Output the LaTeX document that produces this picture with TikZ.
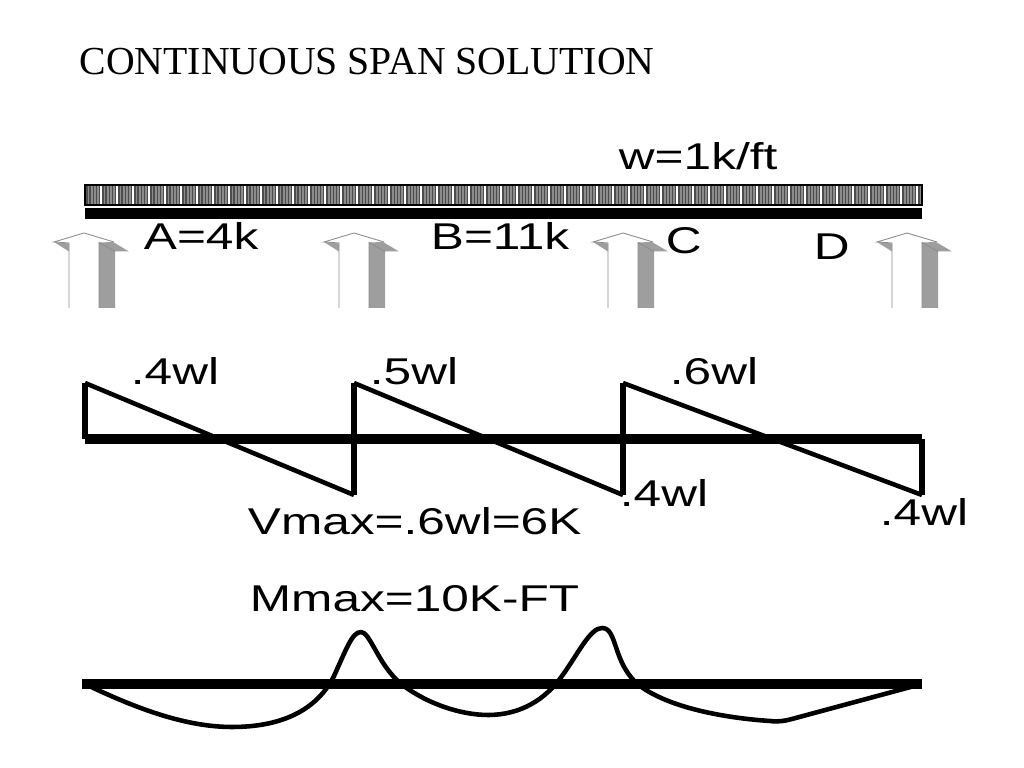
\documentclass[tikz,border=0pt]{standalone}
\usepackage{fontspec}
\setmainfont{Liberation Serif}
\newfontfamily\arialfont{Liberation Sans}
\usetikzlibrary{positioning}
\definecolor{shadegray}{gray}{0.62}
\tikzset{
  lbl/.style={font=\arialfont\fontsize{10.6}{12}\selectfont,inner sep=0pt,anchor=base west,xscale=1.33},
  axisline/.style={line width=2.7pt},
  diagline/.style={line width=1.3pt,line join=round},
  postline/.style={line width=1.6pt},
  outline/.style={line width=0.25pt,draw=black!45}
}
\begin{document}
\begin{tikzpicture}[x=0.01cm,y=-0.01cm]
    \useasboundingbox[fill=white](0,0)rectangle(1024,768);
    \node[font=\fontsize{11.3}{13}\selectfont,inner sep=0pt,anchor=base west](title)at(79,75){CONTINUOUS SPAN SOLUTION};
    %uniform load band
    \fill[black!45](85,185)rectangle(922,205);
    \foreach \x in {87,90.2,...,922}
      \draw[black!70,line width=0.4pt](\x,185)--(\x,205);
    \foreach \x in {85,101,...,922}
      \draw[white,line width=0.5pt](\x,185)--(\x,205);
    \draw[line width=0.4pt](85,185)rectangle(922,205);
    \draw[line width=3.1pt](85,213.5)--(922,213.5);
    %supports
    \foreach \a in {84,354,623,907}{
      \draw[outline](\a-15,308)--(\a-15,243)--(\a-30,242)--(\a,233)--(\a+30,242);
      \fill[shadegray](\a-30,242)--(\a-15,243.5)--(\a-15,251.5)--cycle;
      \fill[shadegray](\a+15,242.5)--(\a+29,242)--(\a+45,251.5)--(\a+31,251.5)--(\a+31,308)--(\a+15,308)--cycle;
      \draw[outline](\a+15,308)--(\a+15,242.5)--(\a+31,251.5);
    }
    \node[lbl](wload)at(618,170){w=1k/ft};
    \node[lbl](Alabel)at(143,250){A=4k};
    \node[lbl](Blabel)at(430,250){B=11k};
    \node[lbl](Clabel)at(665,254){C};
    \node[lbl](Dlabel)at(813,260){D};
    %shear
    \draw[axisline](85,439)--(922,439);
    \draw[diagline](85,383)--(354,495);
    \draw[diagline](354,383)--(623,495);
    \draw[diagline](623,383)--(922,495);
    \draw[postline](85,439)--(85,383);
    \draw[postline](354,495)--(354,383);
    \draw[postline](623,495)--(623,383);
    \draw[postline](922,495)--(922,439);
    \node[lbl](sa)at(130,385){.4wl};
    \node[lbl](sb)at(369,385){.5wl};
    \node[lbl](sc)at(669,385){.6wl};
    \node[lbl](sd)at(619,507){.4wl};
    \node[lbl](se)at(879,526){.4wl};
    \node[lbl](vmax)at(247,535){Vmax=.6wl=6K};
    \node[lbl](mmax)at(249,612){Mmax=10K-FT};
    %moment
    \draw[axisline](82,684)--(922,684);
    \draw[diagline,line cap=round]
      (85,684)..controls(135,708)and(185,727)..(232,727)
      ..controls(285,727)and(318,708)..(334,676)
      ..controls(346,650)and(352,632)..(361,632)
      ..controls(370,632)and(378,664)..(400,683)
      ..controls(425,703)and(460,715)..(488,715)
      ..controls(520,715)and(545,700)..(562,676)
      ..controls(578,654)and(590,628)..(602,628)
      ..controls(618,628)and(612,664)..(640,686)
      ..controls(670,708)and(725,718)..(770,721)
      ..controls(778,722)and(785,721)..(792,719)
      --(918,685);
\end{tikzpicture}
\end{document}
